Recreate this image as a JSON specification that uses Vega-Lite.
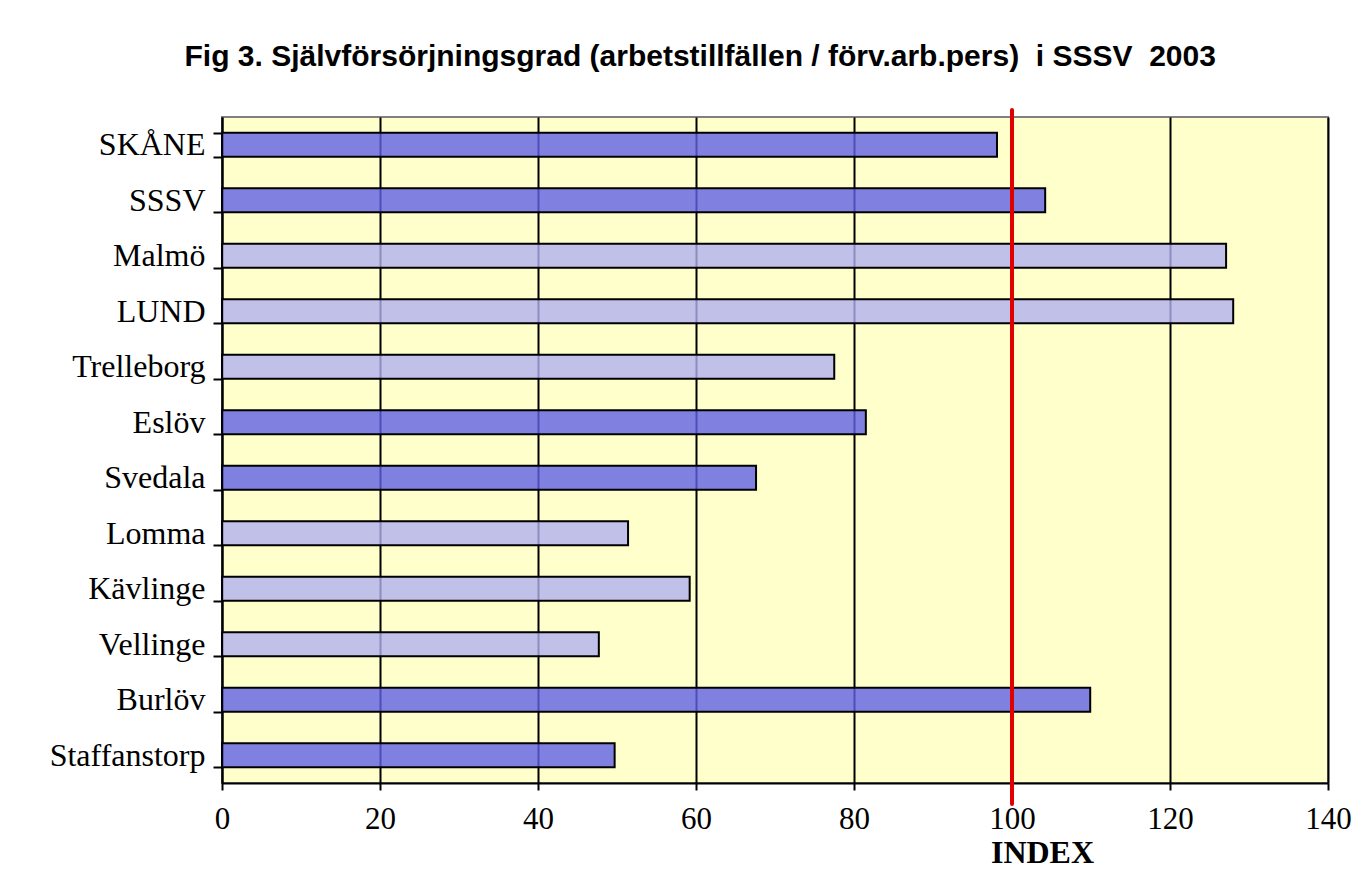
{
  "$schema": "https://vega.github.io/schema/vega-lite/v6.json",
  "autosize": "none",
  "width": 1106,
  "height": 666,
  "padding": {"left": 222, "top": 117, "right": 41, "bottom": 94},
  "background": "white",
  "title": {
    "text": "Fig 3. Självförsörjningsgrad (arbetstillfällen / förv.arb.pers) \u00a0i SSSV \u00a02003",
    "font": "Liberation Sans",
    "fontSize": 30,
    "fontWeight": "bold",
    "color": "black",
    "anchor": "middle",
    "frame": "bounds",
    "offset": 29
  },
  "config": {
    "view": {"fill": "#FFFFCC", "stroke": "#808080", "strokeWidth": 2}
  },
  "layer": [
    {
      "data": {
        "values": [
          {"kommun": "SKÅNE", "index": 98.1, "typ": "mörk"},
          {"kommun": "SSSV", "index": 104.2, "typ": "mörk"},
          {"kommun": "Malmö", "index": 127.1, "typ": "ljus"},
          {"kommun": "LUND", "index": 128.0, "typ": "ljus"},
          {"kommun": "Trelleborg", "index": 77.5, "typ": "ljus"},
          {"kommun": "Eslöv", "index": 81.5, "typ": "mörk"},
          {"kommun": "Svedala", "index": 67.6, "typ": "mörk"},
          {"kommun": "Lomma", "index": 51.4, "typ": "ljus"},
          {"kommun": "Kävlinge", "index": 59.2, "typ": "ljus"},
          {"kommun": "Vellinge", "index": 47.7, "typ": "ljus"},
          {"kommun": "Burlöv", "index": 109.9, "typ": "mörk"},
          {"kommun": "Staffanstorp", "index": 49.7, "typ": "mörk"}
        ]
      },
      "mark": {"type": "bar", "fillOpacity": 0.8, "stroke": "black", "strokeWidth": 2},
      "encoding": {
        "y": {
          "field": "kommun",
          "type": "nominal",
          "sort": null,
          "scale": {"paddingInner": 0.57, "paddingOuter": 0.285},
          "axis": {
            "title": null,
            "labelFont": "Liberation Serif",
            "labelFontSize": 32,
            "labelColor": "black",
            "labelPadding": 8,
            "tickBand": "extent",
            "tickSize": 9,
            "tickWidth": 2,
            "tickColor": "black",
            "domainColor": "black",
            "domainWidth": 2,
            "grid": false
          }
        },
        "x": {
          "field": "index",
          "type": "quantitative",
          "scale": {"domain": [0, 140], "nice": false},
          "axis": {
            "values": [0, 20, 40, 60, 80, 100, 120, 140],
            "title": "INDEX",
            "titleFont": "Liberation Serif",
            "titleFontSize": 32,
            "titleFontWeight": "bold",
            "titleColor": "black",
            "titleX": 820,
            "titleY": 79,
            "titleBaseline": "alphabetic",
            "labelFont": "Liberation Serif",
            "labelFontSize": 31,
            "labelColor": "black",
            "labelPadding": 14,
            "labelFlush": false,
            "tickSize": 7,
            "tickWidth": 2,
            "tickColor": "black",
            "domainColor": "black",
            "domainWidth": 2,
            "grid": true,
            "gridColor": "black",
            "gridWidth": 2,
            "gridOpacity": 1
          }
        },
        "fill": {
          "field": "typ",
          "type": "nominal",
          "scale": {"domain": ["mörk", "ljus"], "range": ["#6060E5", "#B0B0EF"]},
          "legend": null
        }
      }
    },
    {
      "data": {"values": [{"index": 100, "nedre": -0.0315, "övre": 1.0105}]},
      "mark": {"type": "rule", "color": "#E00000", "strokeWidth": 4, "strokeCap": "round", "clip": false},
      "encoding": {
        "x": {"field": "index", "type": "quantitative"},
        "y": {"field": "nedre", "type": "quantitative", "scale": {"domain": [0, 1], "nice": false, "zero": false}, "axis": null},
        "y2": {"field": "övre"}
      }
    }
  ],
  "resolve": {"scale": {"y": "independent"}}
}
